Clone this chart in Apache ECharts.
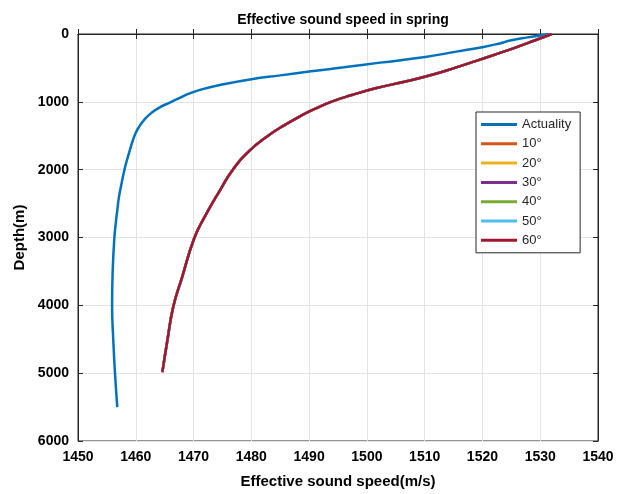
<!DOCTYPE html>
<html>
<head>
<meta charset="utf-8">
<script src="https://cdn.jsdelivr.net/npm/echarts@6/dist/echarts.min.js"></script>
<style>
	html, body { margin: 0; padding: 0; background: #fff; }
	#chart { width: 617px; height: 494px; }
</style>
</head>
<body>
<div id="chart"></div>
<script>
// depth (m) and effective sound speed (m/s)
var actualDepth = [0, 15, 50, 103, 120, 135, 191, 260, 338, 422, 490, 554, 610, 666, 740, 824, 880, 946, 1010, 1088, 1170, 1250, 1350, 1456, 1580, 1706, 1850, 2015, 2200, 2397, 2600, 2780, 3000, 3500, 4000, 4500, 5000, 5500];
var actualSpeed = [1531.5, 1530.4, 1527.8, 1524.4, 1523.8, 1523.2, 1520.2, 1515.5, 1510.1, 1502.3, 1496.0, 1490, 1485, 1480, 1475.2, 1471.1, 1469.2, 1467.5, 1465.9, 1464.0, 1462.6, 1461.6, 1460.7, 1460.0, 1459.45, 1459.0, 1458.5, 1458.0, 1457.55, 1457.1, 1456.8, 1456.55, 1456.3, 1456.0, 1455.9, 1456.1, 1456.4, 1456.8];

// the six angle curves lie on top of each other in the figure
var angleDepth = [0, 100, 200, 300, 400, 500, 600, 700, 800, 900, 1000, 1100, 1200, 1350, 1500, 1720, 2000, 2300, 2700, 3015, 3590, 4015, 4500, 4985];
var angleSpeed = [1532, 1528.9, 1525.7, 1522.3, 1518.8, 1515.2, 1511.3, 1506.7, 1501.5, 1497.4, 1493.8, 1491.1, 1488.7, 1485.6, 1482.9, 1479.7, 1476.8, 1474.6, 1471.9, 1470.1, 1468.0, 1466.5, 1465.5, 1464.6];

var seriesNames = ['Actuality', '10°', '20°', '30°', '40°', '50°', '60°'];
var seriesColors = ['#0072BD', '#D95319', '#EDB120', '#7E2F8E', '#77AC30', '#4DBEEE', '#A2142F'];

var xTicks = { min: 1450, max: 1540, step: 10 };
var yTicks = { min: 0, max: 6000, step: 1000 };

function pairs(xs, ys) {
	return xs.map(function(x, i) { return [x, ys[i]]; });
}

var chart = echarts.init(document.getElementById('chart'));

var series = seriesNames.map(function(name, i) {
	var d = i === 0 ? pairs(actualSpeed, actualDepth) : pairs(angleSpeed, angleDepth);
	return {
		name: name,
		type: 'line',
		data: d,
		showSymbol: false,
		smooth: 0.5,
		lineStyle: { width: 2.5, color: seriesColors[i] },
		itemStyle: { color: seriesColors[i] },
		z: 2 + i
	};
});

var fontName = 'Liberation Sans, Arial, sans-serif';
var axisFont = { fontFamily: fontName, fontWeight: 'bold', fontSize: 14, color: '#000' };
function plain(v) { return String(v); }

chart.setOption({
	animation: false,
	backgroundColor: '#fff',
	title: {
		text: 'Effective sound speed in spring',
		left: 338, top: 8, textAlign: 'center',
		textStyle: { fontFamily: fontName, fontWeight: 'bold', fontSize: 14, color: '#000' }
	},
	grid: { left: 78, right: 19, top: 34, bottom: 52, show: true, borderColor: '#262626', borderWidth: 1 },
	legend: {
		orient: 'vertical', left: 476, top: 112,
		backgroundColor: '#fff', borderColor: '#262626', borderWidth: 1,
		padding: [6, 9, 6, 5], itemGap: 6.3, itemWidth: 36, itemHeight: 3, icon: 'rect',
		textStyle: { fontFamily: fontName, fontSize: 13, color: '#262626' },
		data: seriesNames
	},
	xAxis: [{
		type: 'value', min: xTicks.min, max: xTicks.max, interval: xTicks.step,
		name: 'Effective sound speed(m/s)', nameLocation: 'middle', nameGap: 33,
		nameTextStyle: { fontFamily: fontName, fontWeight: 'bold', fontSize: 15, color: '#000' },
		axisLine: { show: true, lineStyle: { color: '#262626' } },
		axisTick: { inside: true, length: 5, lineStyle: { color: '#262626' } },
		axisLabel: Object.assign({ margin: 9, formatter: plain }, axisFont),
		splitLine: { show: true, lineStyle: { color: '#e3e3e3' } }
	}, {
		type: 'value', position: 'top', min: xTicks.min, max: xTicks.max, interval: xTicks.step,
		axisLine: { show: true, lineStyle: { color: '#262626' } },
		axisTick: { inside: true, length: 5, lineStyle: { color: '#262626' } },
		axisLabel: { show: false }, splitLine: { show: false }
	}],
	yAxis: [{
		type: 'value', inverse: true, min: yTicks.min, max: yTicks.max, interval: yTicks.step,
		name: 'Depth(m)', nameLocation: 'middle', nameGap: 46, nameRotate: 90,
		nameTextStyle: { fontFamily: fontName, fontWeight: 'bold', fontSize: 15, color: '#000' },
		axisLine: { show: true, lineStyle: { color: '#262626' } },
		axisTick: { inside: true, length: 5, lineStyle: { color: '#262626' } },
		axisLabel: Object.assign({ margin: 9, formatter: plain }, axisFont),
		splitLine: { show: true, lineStyle: { color: '#e3e3e3' } }
	}, {
		type: 'value', position: 'right', inverse: true, min: yTicks.min, max: yTicks.max, interval: yTicks.step,
		axisLine: { show: true, lineStyle: { color: '#262626' } },
		axisTick: { inside: true, length: 5, lineStyle: { color: '#262626' } },
		axisLabel: { show: false }, splitLine: { show: false }
	}],
	series: series
});
</script>
</body>
</html>
